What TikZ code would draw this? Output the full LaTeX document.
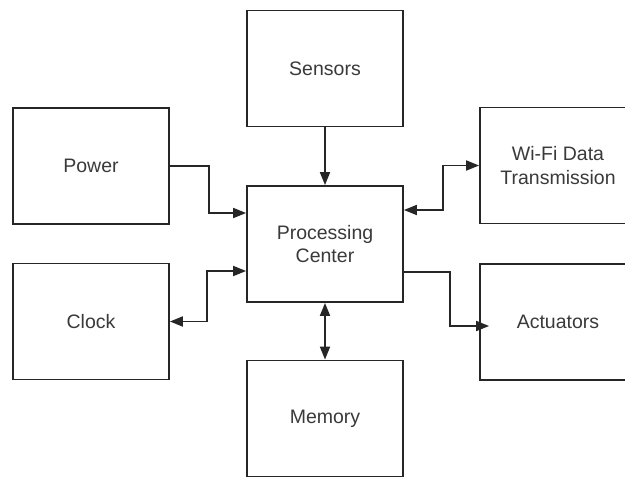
\documentclass[tikz,border=0pt]{standalone}
\usepackage{fontspec}
\setmainfont{Liberation Sans}
\usetikzlibrary{arrows.meta,calc}
\definecolor{edge}{HTML}{262626}
\definecolor{label}{HTML}{3A3A3A}
\begin{document}
\begin{tikzpicture}[x=1pt,y=-1pt,
  block/.style={draw=edge, line width=1.8pt, fill=white, rectangle,
    minimum width=156pt, minimum height=116pt, inner sep=0pt,
    align=center, text=label, font=\fontsize{19.5}{23.5}\selectfont},
  link/.style={draw=edge, line width=1.8pt,
    -{Triangle[length=13pt,width=10pt]}},
  duplex/.style={draw=edge, line width=1.8pt,
    {Triangle[length=13pt,width=10pt]}-{Triangle[length=13pt,width=10pt]}}]
  \useasboundingbox (0,0) rectangle (625,477);

  % blocks
  \node[block] (sens) at (325,68.5)  {Sensors};
  \node[block] (proc) at (325,244)   {Processing\\Center};
  \node[block] (mem)  at (325,418.5) {Memory};
  \node[block] (pow)  at (91,166)    {Power};
  \node[block] (clk)  at (91,321.5)  {Clock};
  \node[block] (wifi) at (558,165.5) {Wi-Fi Data\\Transmission};
  \node[block] (act)  at (558,322)   {Actuators};

  % connectors
  \draw[link] (sens.south) -- (proc.north);
  \draw[duplex] (proc.south) -- (mem.north);
  \draw[link] (pow.east) -- ++(39,0) |- ($(proc.west)+(0,-31)$);
  \draw[duplex] ($(proc.west)+(0,27)$) -- ++(-39,0) |- (clk.east);
  \draw[duplex] ($(proc.east)+(0,-34)$) -- ++(39,0) |- (wifi.west);
  \draw[link, shorten >=-10pt] ($(proc.east)+(0,28)$) -- ++(46,0) |- ($(act.west)+(0,4)$);
\end{tikzpicture}
\end{document}
